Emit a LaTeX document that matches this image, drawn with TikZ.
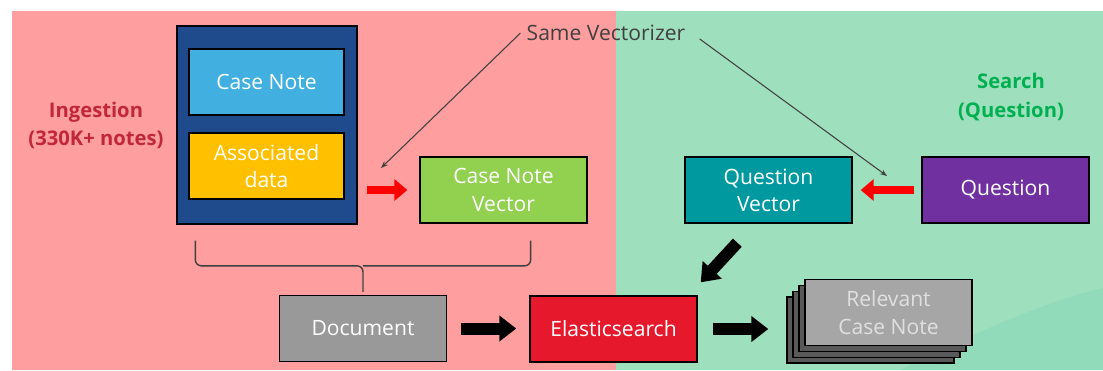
\documentclass[tikz,border=0pt]{standalone}
\usepackage{fontspec}
\setmainfont{Open Sans}
\usepackage{tikz}
\usetikzlibrary{arrows.meta,calc,positioning,shadows}
\definecolor{bgpink}{RGB}{255,158,158}
\definecolor{bggreen}{RGB}{158,224,189}
\definecolor{bggreenb}{RGB}{146,219,186}
\definecolor{navy}{RGB}{31,74,140}
\definecolor{skyb}{RGB}{65,176,224}
\definecolor{amber}{RGB}{255,192,0}
\definecolor{leaf}{RGB}{146,208,80}
\definecolor{tealq}{RGB}{0,153,160}
\definecolor{plum}{RGB}{112,48,160}
\definecolor{esred}{RGB}{230,25,44}
\definecolor{ingred}{RGB}{192,40,58}
\definecolor{srchgreen}{RGB}{0,176,80}

\begin{document}
\begin{tikzpicture}[x=0.02cm,y=-0.02cm,
  bx/.style={draw=black,line width=0.8pt,text=white,align=center,font=\fontsize{12}{15.5}\selectfont,
             inner sep=0pt,minimum width=3.34cm,minimum height=1.32cm,fill=#1},bx/.default=white,
  lbl/.style={font=\bfseries\fontsize{11.5}{16}\selectfont,align=center},
  fat/.style={line width=0.24cm,-{Triangle[length=0.34cm,width=0.5cm]}},
  redarr/.style={red,line width=0.17cm,-{Triangle[length=0.26cm,width=0.42cm]}},
  vecline/.style={draw=black!75,line width=0.6pt,-{Stealth[length=4pt]}},
  brc/.style={draw=black!75,line width=0.8pt,rounded corners=0.12cm}]
  \useasboundingbox (0,0) rectangle (1103,370);
  \fill[bgpink] (12,11) rectangle (616,370);
  \fill[bggreen] (616,11) rectangle (1103,370);
  \fill[bggreenb] (900,370) .. controls (980,330) and (1050,300) .. (1103,288) -- (1103,370) -- cycle;
  \node[draw=black,line width=0.8pt,fill=navy,minimum width=3.6cm,minimum height=3.96cm] (rec) at (267,125) {};
  \node[bx=skyb,line width=1.1pt,minimum width=3.1cm] (cn) at (266.5,82) {Case Note};
  \node[bx=amber,line width=1.1pt,minimum width=3.1cm] (ad) at (266.5,166) {Associated\\data};
  \node[bx=leaf] (cnv) at (503.5,190) {Case Note\\Vector};
  \node[bx=tealq] (qv) at (768.5,190) {Question\\Vector};
  \node[bx=plum] (q) at (1005.5,190) {Question};
  \node[bx=black!40] (doc) at (363,328.5) {Document};
  \node[bx=esred] (es) at (613.5,329) {Elasticsearch};
  \node[bx=black!35,text=black!12,
        copy shadow={shadow xshift=-0.36cm,shadow yshift=-0.35cm,fill=black!65},
        copy shadow={shadow xshift=-0.24cm,shadow yshift=-0.24cm,fill=black!65},
        copy shadow={shadow xshift=-0.12cm,shadow yshift=-0.12cm,fill=black!65}] (rel) at (888.5,312.5) {Relevant\\Case Note};
  \node[lbl,text=ingred] (ing) at (96,125) {Ingestion\\(330K+ notes)};
  \node[lbl,text=srchgreen] (srch) at (1011,97) {Search\\(Question)};
  \node[font=\fontsize{12}{14}\selectfont,text=black!75] (sv) at (606,33) {Same Vectorizer};
  \coordinate (vl) at (381,168);
  \coordinate (vr) at (887,176);
  \draw[vecline] (sv.west) -- (vl);
  \draw[vecline,shorten <=0.2cm] (sv.east) -- (vr);
  \draw[redarr,shorten <=0.18cm,shorten >=0.24cm] (rec.east |- cnv) -- (cnv.west);
  \draw[redarr,shorten <=0.14cm,shorten >=0.16cm] (q.west) -- (qv.east);
  \coordinate (bl) at ([shift={(19,16)}]rec.south west);
  \coordinate (br) at ([shift={(-57,17)}]cnv.south east);
  \coordinate (bt) at ([yshift=0.06cm]doc.north);
  \draw[brc] (bl) |- ($(bt)+(0,-26)$) -- (bt);
  \draw[brc] (br) |- ($(bt)+(0,-26)$);
  \draw[fat,shorten <=0.28cm,shorten >=0.26cm] (doc.east) -- (doc.east -| es.west);
  \draw[fat,shorten <=0.3cm,shorten >=0.72cm] (es.east) -- (es.east -| rel.west);
  \draw[fat] ([shift={(53,19)}]qv.south west) -- ([shift={(3,-13)}]es.north east);
\end{tikzpicture}
\end{document}
